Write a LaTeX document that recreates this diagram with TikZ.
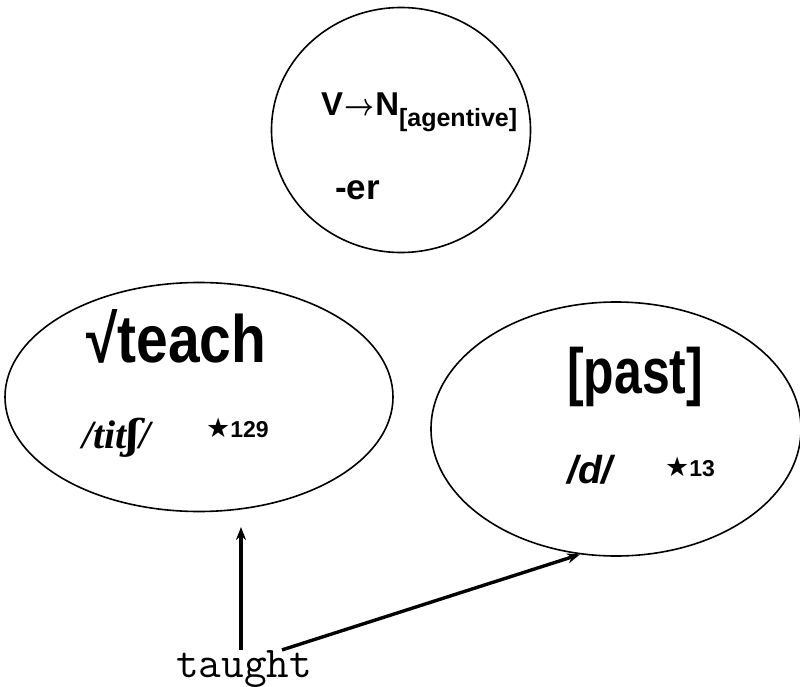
\documentclass[tikz,border=0pt]{standalone}
\usepackage{fontspec}
\setmainfont{Liberation Sans}
\newfontfamily\libsans{Liberation Sans}
\newfontfamily\libserif{Liberation Serif}
\newfontfamily\djsans{DejaVu Sans}
\newfontfamily\djserif{DejaVu Serif}
\usetikzlibrary{shapes.geometric,arrows.meta}
\newcommand{\fs}[1]{\fontsize{#1}{#1}\selectfont}
\begin{document}
\begin{tikzpicture}[x=1pt,y=-1pt,
  ell/.style={draw, ellipse, line width=1.6pt, inner sep=0pt},
  lbl/.style={inner sep=0pt, anchor=base west},
  arr/.style={line width=3.4pt, -{Stealth[length=13pt,width=10pt]}}]
\useasboundingbox (0,0) rectangle (800,687);
% ellipses
\node[ell, minimum width=259pt, minimum height=245pt] (T) at (401,130) {};
\node[ell, minimum width=388pt, minimum height=229pt] (L) at (199,397) {};
\node[ell, minimum width=370pt, minimum height=254pt] (R) at (616,429) {};
% top texts
\node[lbl] (vn) at (321,116) {\libsans\bfseries\fs{33}V\kern1pt\scalebox{1.05}[1.25]{\boldmath$\rightarrow$}\kern1ptN\raisebox{-11pt}{\fs{25}[agentive]}};
\node[lbl] (er) at (335,200) {\libsans\bfseries\fs{35}-er};
% left texts
\node[lbl] (teach) at (86,362) {\scalebox{0.85}[1]{\libsans\bfseries\fs{67}√teach}};
\node[lbl] (tit) at (82,448) {\libserif\bfseries\itshape\fs{40}/tit{\djserif ʃ}/};
\node[lbl] (n129) at (206,437) {{\djsans\bfseries\fs{27}★}{\libsans\bfseries\fs{23}129}};
% right texts
\node[lbl] (past) at (567,393) {\scalebox{0.78}[1]{\libsans\bfseries\fs{64}[past]}};
\node[lbl] (d) at (567,483) {\libsans\bfseries\itshape\fs{39}/d/};
\node[lbl] (n13) at (665,476) {{\djsans\bfseries\fs{27}★}{\libsans\bfseries\fs{23}13}};
% bottom word
\node[inner sep=0pt, anchor=base] (taught) at (244,677) {\ttfamily\fs{44}taught};
\coordinate (tipA) at (241,527);
\draw[arr] (taught.north -| tipA) -- (tipA);
\draw[arr] ([xshift=38pt]taught.north) -- (R.-106);
\end{tikzpicture}
\end{document}
